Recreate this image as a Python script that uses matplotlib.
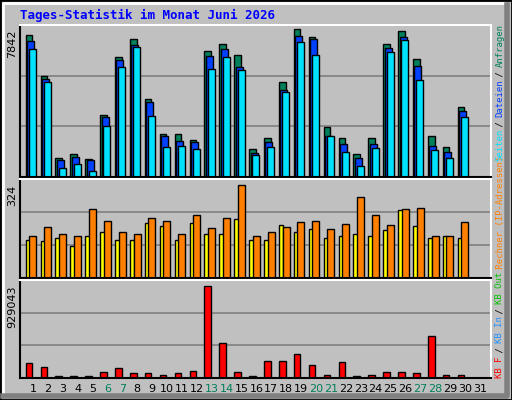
import numpy as np
import matplotlib.pyplot as plt
from matplotlib.patches import Rectangle

tage = list(range(1, 32))
wochenende = [6, 7, 13, 14, 20, 21, 27, 28]

anfragen = [7524, 5351, 1006, 1218, 954, 3285, 6358, 7312, 4133, 2278, 2278, 1960, 6676, 7047, 6464, 1483,
            2066, 5033, 7842, 7418, 2649, 2066, 1218, 2066, 7047, 7736, 6252, 2172, 1589, 3709]
dateien = [7206, 5192, 901, 1060, 901, 3179, 6199, 6994, 3974, 2172, 1907, 1854, 6411, 6782, 5828, 1272,
           1854, 4610, 7471, 7312, 2172, 1748, 1006, 1748, 6835, 7418, 5881, 1643, 1325, 3497]
seiten = [6782, 5033, 477, 689, 318, 2702, 5828, 6888, 3232, 1589, 1643, 1483, 5722, 6358, 5669, 1166,
          1589, 4504, 7153, 6464, 2172, 1325, 583, 1537, 6623, 7259, 5139, 1431, 1007, 3179]
besuche = [134, 128, 138, 113, 145, 162, 131, 134, 190, 180, 131, 190, 152, 152, 205, 134,
           134, 183, 159, 169, 138, 145, 152, 145, 166, 236, 180, 138, 145, 141]
rechner = [145, 177, 152, 145, 240, 197, 162, 152, 208, 197, 152, 218, 173, 208, 324, 145,
           159, 177, 194, 197, 169, 187, 282, 221, 183, 240, 244, 145, 145, 194]
kbytes = [156000, 115000, 20000, 20000, 20000, 64000, 105000, 54000, 54000, 34000, 54000, 75000, 929043, 349000,
          64000, 20000, 176000, 176000, 247000, 136000, 34000, 166000, 20000, 34000, 64000, 64000, 54000, 420000,
          34000, 34000]

GRUEN = '#00805c'
BLAU = '#0040ff'
CYAN = '#00e0ff'
GELB = '#ffff00'
ORANGE = '#ff8000'
ROT = '#ff0000'
GRAU = '#c0c0c0'

W, H = 512, 400
fig = plt.figure(figsize=(W / 100, H / 100), dpi=100)
fig.patch.set_facecolor(GRAU)

def px_axes(x0, y0, x1, y1):
    # Pixelkoordinaten (oben links) -> Achsen
    return fig.add_axes([x0 / W, 1 - y1 / H, (x1 - x0) / W, (y1 - y0) / H])

# Rahmen
fig.add_artist(Rectangle((0, 0), 1, 1, transform=fig.transFigure, fill=False, ec='black', lw=2))
fig.add_artist(plt.Line2D([3 / W, 3 / W, 505 / W], [6 / H, 1 - 3 / H, 1 - 3 / H], transform=fig.transFigure, color='white', lw=2))
fig.add_artist(plt.Line2D([3 / W, 507 / W, 507 / W], [4 / H, 4 / H, 1 - 5 / H], transform=fig.transFigure, color='#808080', lw=4))

fig.text(20 / W, 1 - 15 / H, 'Tages-Statistik im Monat Juni 2026', color='#0000ff', fontsize=9,
         fontweight='bold', family='DejaVu Sans Mono', va='center', ha='left')

x = np.arange(1, 31)
XMIN, XMAX = 0.128, 31.74

def panel(ax, maxwert, maxpx, hoehe, oben):
    ax.set_facecolor(GRAU)
    ax.set_xlim(XMIN, XMAX)
    ax.set_ylim(0, maxwert * hoehe / maxpx)
    for y in [maxwert * hoehe / maxpx / 3, maxwert * hoehe / maxpx * 2 / 3]:
        ax.axhline(y, color='#808080', lw=1.2, zorder=0)
    ax.set_xticks([])
    ax.set_yticks([])
    for s in ax.spines.values():
        s.set_color('white')
        s.set_linewidth(1.5)
    ax.spines['left'].set_color('black')
    ax.spines['bottom'].set_color('black')
    # Maximalwert links, senkrecht
    fig.text(17 / W, 1 - (oben + hoehe - maxpx) / H, str(maxwert), rotation=90,
             ha='right', va='top', fontsize=8, family='DejaVu Sans')

kw = dict(align='edge', edgecolor='black', linewidth=1)

ax1 = px_axes(20, 25, 491, 177)
panel(ax1, 7842, 148, 152, 25)
ax1.bar(x - 0.49, anfragen, 0.44, color=GRUEN, **kw)
ax1.bar(x - 0.40, dateien, 0.47, color=BLAU, **kw)
ax1.bar(x - 0.27, seiten, 0.47, color=CYAN, **kw)

ax2 = px_axes(20, 179, 491, 278)
panel(ax2, 324, 93, 99, 179)
ax2.bar(x - 0.49, besuche, 0.30, color=GELB, **kw)
ax2.bar(x - 0.25, rechner, 0.47, color=ORANGE, **kw)

ax3 = px_axes(20, 280, 491, 378)
panel(ax3, 929043, 92, 98, 280)
ax3.bar(x - 0.49, kbytes, 0.44, color=ROT, **kw)

# Tagesbeschriftung
for t in tage:
    farbe = GRUEN if t in wochenende else 'black'
    ax3.text(t, -0.11, str(t), transform=ax3.get_xaxis_transform(), ha='center', va='center',
             fontsize=8, color=farbe)

# Legende rechts (senkrecht)
teile = [('KB F', ROT), (' / ', 'black'), ('KB In', '#1e90ff'), (' / ', 'black'), ('KB Out', '#00c000'),
         (' Rechner (IP-Adressen) ', ORANGE), ('Seiten', CYAN), (' / ', 'black'), ('Dateien', BLAU),
         (' / ', 'black'), ('Anfragen', GRUEN)]
ypx = 378
proz = 4.93
for txt, farbe in teile:
    fig.text(500 / W, 1 - ypx / H, txt, rotation=90, ha='center', va='bottom', color=farbe,
             fontsize=6.5, family='DejaVu Sans Mono')
    ypx -= len(txt) * proz

fig.savefig('out.png', dpi=100, facecolor=fig.get_facecolor())
